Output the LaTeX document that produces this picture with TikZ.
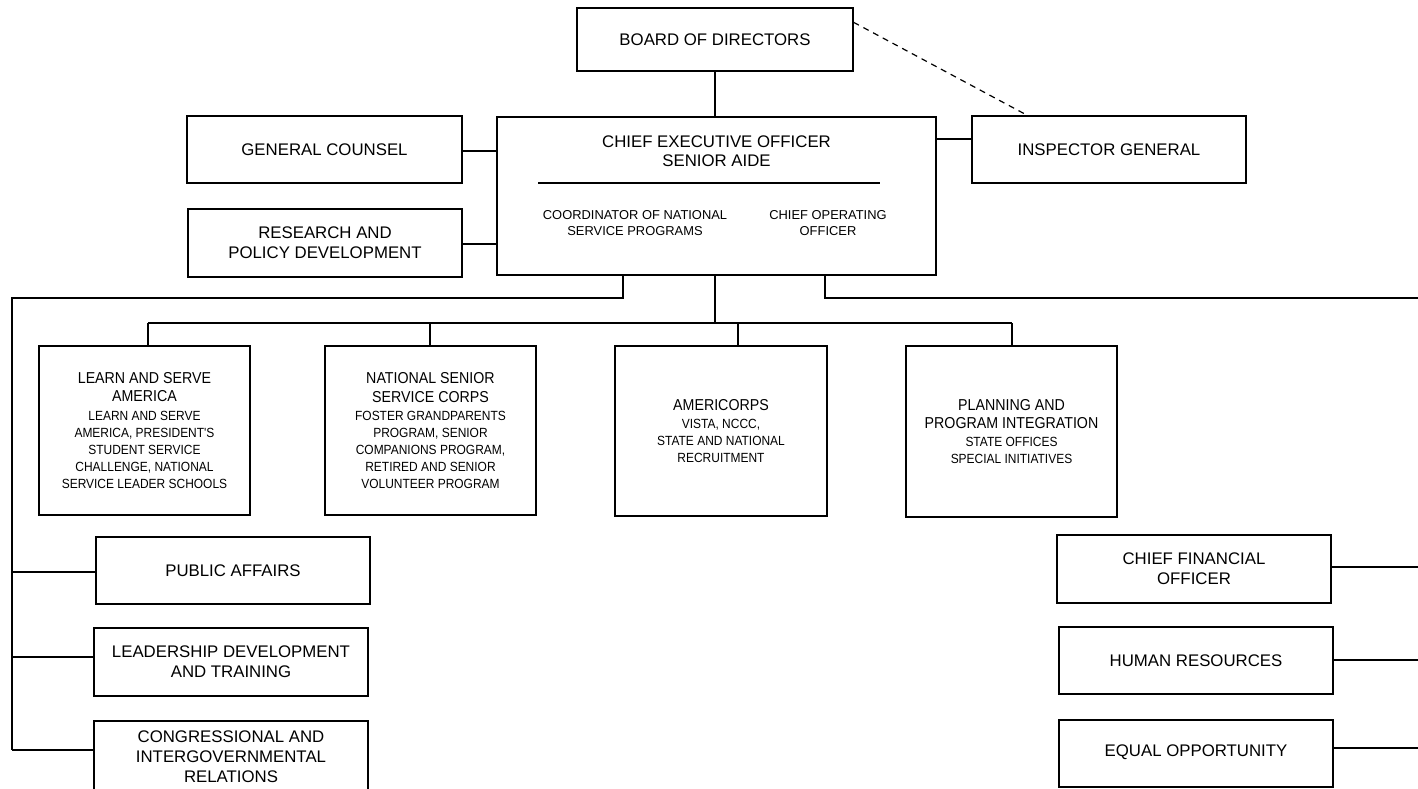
\documentclass[tikz,border=0pt]{standalone}
\usepackage{fontspec}
\setmainfont{Liberation Sans}
\newfontfamily\condfont[FakeStretch=0.9]{Liberation Sans}
\newcommand\bigtxt{\fontsize{16.8}{20}\selectfont}
\newcommand\smalltxt{\fontsize{12.9}{16}\selectfont}
\newcommand\pbig{\condfont\fontsize{15.8}{18}\selectfont}
\newcommand\psmall{\condfont\fontsize{13.3}{17}\selectfont}
\tikzset{
  box/.style={draw, line width=1.3pt, inner sep=0pt, align=center, font=\bigtxt},
  pbox/.style={draw, line width=1.3pt, inner sep=0pt, align=center, font=\psmall},
  plain/.style={inner sep=0pt, align=center},
  conn/.style={line width=1.2pt},
  dconn/.style={line width=1.2pt, dash pattern=on 6pt off 5pt},
}
\begin{document}
\begin{tikzpicture}[x=1pt, y=-1pt]
\useasboundingbox (0,0) rectangle (1418,788);
% top
\node[box, minimum width=276pt, minimum height=63pt] (board) at (715,39.5) {BOARD OF DIRECTORS};
\node[box, minimum width=439pt, minimum height=158pt] (ceo) at (716.5,196) {};
\node[plain, font=\fontsize{16.8}{19}\selectfont] (ceot) at (716.5,151.5) {CHIEF EXECUTIVE OFFICER\\SENIOR AIDE};
\coordinate (sepl) at (538,183);
\coordinate (sepr) at (880,183);
\draw[line width=1.3pt] (sepl) -- (sepr);
\node[plain, font=\smalltxt] (coord) at (635,223) {COORDINATOR OF NATIONAL\\SERVICE PROGRAMS};
\node[plain, font=\smalltxt] (coo) at (828,223) {CHIEF OPERATING\\OFFICER};
\node[box, minimum width=275pt, minimum height=67pt] (gc) at (324.5,149.5) {GENERAL COUNSEL};
\node[box, minimum width=274pt, minimum height=68pt] (rpd) at (325,243) {RESEARCH AND\\POLICY DEVELOPMENT};
\node[box, minimum width=274pt, minimum height=67pt] (ig) at (1109,149.5) {INSPECTOR GENERAL};
% program boxes
\node[pbox, minimum width=211pt, minimum height=169pt] (lsa) at (144.5,430.5)
  {{\pbig LEARN AND SERVE}\\[1.3pt]{\pbig AMERICA}\\[2pt]LEARN AND SERVE\\AMERICA, PRESIDENT'S\\STUDENT SERVICE\\CHALLENGE, NATIONAL\\SERVICE LEADER SCHOOLS};
\node[pbox, minimum width=211pt, minimum height=169pt] (nssc) at (430.5,430.5)
  {{\pbig NATIONAL SENIOR}\\[1.3pt]{\pbig SERVICE CORPS}\\[1pt]FOSTER GRANDPARENTS\\PROGRAM, SENIOR\\COMPANIONS PROGRAM,\\RETIRED AND SENIOR\\VOLUNTEER PROGRAM};
\node[pbox, minimum width=212pt, minimum height=170pt] (amc) at (721,431)
  {{\pbig AMERICORPS}\\[0.5pt]VISTA, NCCC,\\STATE AND NATIONAL\\RECRUITMENT};
\node[pbox, minimum width=211pt, minimum height=171pt] (ppi) at (1011.5,431.5)
  {{\pbig PLANNING AND}\\[1.3pt]{\pbig PROGRAM INTEGRATION}\\[1.5pt]STATE OFFICES\\SPECIAL INITIATIVES};
% left column
\node[box, minimum width=274pt, minimum height=67pt] (pa) at (233,570.5) {PUBLIC AFFAIRS};
\node[box, minimum width=274pt, minimum height=68pt] (ldt) at (231,662) {LEADERSHIP DEVELOPMENT\\AND TRAINING};
\node[box, minimum width=274pt, minimum height=72pt] (cir) at (231,757) {CONGRESSIONAL AND\\INTERGOVERNMENTAL\\RELATIONS};
% right column
\node[box, minimum width=274pt, minimum height=68pt] (cfo) at (1194,569) {CHIEF FINANCIAL\\OFFICER};
\node[box, minimum width=274pt, minimum height=67pt] (hr) at (1196,660.5) {HUMAN RESOURCES};
\node[box, minimum width=274pt, minimum height=67pt] (eo) at (1196,753.5) {\raisebox{5pt}{EQUAL OPPORTUNITY}};
% connectors top
\draw[conn] (board.south) -- (board.south |- ceo.north);
\draw[dconn] ([yshift=-15pt]board.north east) -- ([xshift=56pt]ig.north west);
\draw[conn] ([yshift=-1.5pt]gc.east) -- ([yshift=-1.5pt]gc.east -| ceo.west);
\draw[conn] ([yshift=-1pt]rpd.east) -- ([yshift=-1pt]rpd.east -| ceo.west);
\draw[conn] ([yshift=10.5pt]ig.west) -- ([yshift=10.5pt]ig.west -| ceo.east);
% buses
\coordinate (lb) at (12,298);
\coordinate (lbend) at (12,750);
\coordinate (rb) at (1418,298);
\draw[conn] ([xshift=-93.5pt]ceo.south) |- (lb) -- (lbend);
\draw[conn] ([xshift=108.5pt]ceo.south) |- (rb);
\coordinate (d1) at (148,323);
\coordinate (d2) at (430,323);
\coordinate (d3) at (738,323);
\coordinate (d4) at (1012,323);
\draw[conn] (d1 -| board.south) -- (board.south |- ceo.south);
\draw[conn] (d1) -- (d4);
\draw[conn] (d1) -- (d1 |- lsa.north);
\draw[conn] (d2) -- (d2 |- nssc.north);
\draw[conn] (d3) -- (d3 |- amc.north);
\draw[conn] (d4) -- (d4 |- ppi.north);
% left branches
\draw[conn] ([yshift=-1.5pt]pa.west) -- ([yshift=-1.5pt]pa.west -| lb);
\draw[conn] ([yshift=5pt]ldt.west) -- ([yshift=5pt]ldt.west -| lb);
\draw[conn] (lbend) -- (lbend -| cir.west);
% right branches
\draw[conn] ([yshift=2pt]cfo.east) -- ([yshift=2pt]cfo.east -| rb);
\draw[conn] ([yshift=0.5pt]hr.east) -- ([yshift=0.5pt]hr.east -| rb);
\draw[conn] ([yshift=5.5pt]eo.east) -- ([yshift=5.5pt]eo.east -| rb);
\end{tikzpicture}
\end{document}
